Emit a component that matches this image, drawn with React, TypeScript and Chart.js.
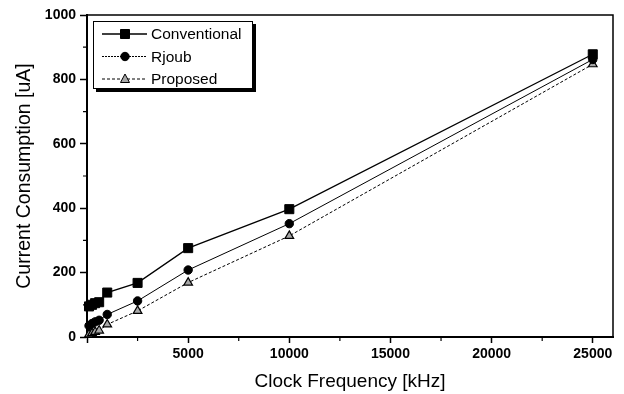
import React, { useEffect, useRef } from 'react';
import { Chart, registerables } from 'chart.js';

Chart.register(...registerables);

// Clock frequency in kHz and current draw in uA for each design
const frequencies = [100, 250, 400, 600, 1000, 2500, 5000, 10000, 25000];
const conventional = [95, 100, 105, 108, 138, 168, 276, 397, 878];
const rjoub = [35, 42, 47, 52, 70, 112, 208, 352, 862];
const proposed = [8, 12, 16, 20, 39, 81, 169, 314, 847];
const seriesNames = ['Conventional', 'Rjoub', 'Proposed'];

const xMajorTicks = [0, 5000, 10000, 15000, 20000, 25000];
const xMinorTicks = [2500, 7500, 12500, 17500, 22500];
const yMajorTicks = [0, 200, 400, 600, 800, 1000];
const yMinorTicks = [100, 300, 500, 700, 900];

const FONT = '"Liberation Sans", Arial, sans-serif';

function drawMarker(ctx: CanvasRenderingContext2D, style: string, x: number, y: number, fill: string) {
  ctx.save();
  ctx.fillStyle = fill;
  ctx.strokeStyle = '#000';
  ctx.lineWidth = 1;
  ctx.setLineDash([]);
  ctx.beginPath();
  if (style === 'rect') {
    ctx.rect(x - 4.5, y - 4.5, 9, 9);
  } else if (style === 'circle') {
    ctx.arc(x, y, 4.2, 0, Math.PI * 2);
  } else {
    ctx.moveTo(x, y - 5);
    ctx.lineTo(x + 4.5, y + 3.5);
    ctx.lineTo(x - 4.5, y + 3.5);
    ctx.closePath();
  }
  ctx.fill();
  ctx.stroke();
  ctx.restore();
}

// Box frame, minor ticks and the shadowed legend
const framePlugin = {
  id: 'frameAndLegend',
  afterDraw(chart: any) {
    const { ctx, chartArea } = chart;
    const { left, right, top, bottom } = chartArea;
    const xs = chart.scales.x;
    const ys = chart.scales.y;
    ctx.save();
    ctx.strokeStyle = '#000';
    ctx.setLineDash([]);
    ctx.lineWidth = 1.5;
    ctx.beginPath();
    ctx.moveTo(left, top);
    ctx.lineTo(right, top);
    ctx.lineTo(right, bottom);
    ctx.stroke();

    ctx.lineWidth = 1.2;
    ctx.beginPath();
    xMinorTicks.forEach((v) => {
      const px = xs.getPixelForValue(v);
      ctx.moveTo(px, bottom);
      ctx.lineTo(px, bottom + 4);
    });
    yMinorTicks.forEach((v) => {
      const py = ys.getPixelForValue(v);
      ctx.moveTo(left, py);
      ctx.lineTo(left - 4, py);
    });
    ctx.stroke();

    // legend
    const bx = left + 6;
    const by = top + 6;
    const bw = 160;
    const bh = 68;
    ctx.fillStyle = '#000';
    ctx.fillRect(bx + 3, by + 3, bw, bh);
    ctx.fillStyle = '#fff';
    ctx.fillRect(bx, by, bw, bh);
    ctx.lineWidth = 1;
    ctx.strokeRect(bx + 0.5, by + 0.5, bw - 1, bh - 1);

    chart.data.datasets.forEach((ds: any, i: number) => {
      const y = by + 13 + i * 22.5;
      ctx.save();
      ctx.strokeStyle = '#000';
      ctx.lineWidth = ds.borderWidth;
      ctx.setLineDash(ds.legendDash || ds.borderDash || []);
      ctx.beginPath();
      ctx.moveTo(bx + 9, y);
      ctx.lineTo(bx + 54, y);
      ctx.stroke();
      ctx.restore();
      drawMarker(ctx, ds.pointStyle, bx + 32, y, ds.pointBackgroundColor);
      ctx.fillStyle = '#000';
      ctx.font = `15.5px ${FONT}`;
      ctx.textBaseline = 'middle';
      ctx.textAlign = 'left';
      ctx.fillText(ds.label, bx + 58, y + 1);
    });
    ctx.restore();
  },
};

export default function App() {
  const canvasRef = useRef<HTMLCanvasElement | null>(null);

  useEffect(() => {
    const canvas = canvasRef.current;
    if (!canvas) return;
    const makeSeries = (values: number[]) => frequencies.map((f, i) => ({ x: f, y: values[i] }));

    const chart = new Chart(canvas, {
      type: 'line',
      data: {
        datasets: [
          {
            label: seriesNames[0],
            data: makeSeries(conventional),
            borderColor: '#000',
            borderWidth: 1.3,
            borderDash: [],
            pointStyle: 'rect',
            pointRadius: 6.4,
            pointBackgroundColor: '#000',
            pointBorderColor: '#000',
            pointBorderWidth: 1,
            clip: false,
          },
          {
            label: seriesNames[1],
            data: makeSeries(rjoub),
            borderColor: '#000',
            borderWidth: 1,
            borderDash: [],
            legendDash: [2, 1],
            pointStyle: 'circle',
            pointRadius: 4.2,
            pointBackgroundColor: '#000',
            pointBorderColor: '#000',
            pointBorderWidth: 1,
            clip: false,
          },
          {
            label: seriesNames[2],
            data: makeSeries(proposed),
            borderColor: '#000',
            borderWidth: 1,
            borderDash: [3, 2],
            pointStyle: 'triangle',
            pointRadius: 5,
            pointBackgroundColor: '#a8a8a8',
            pointBorderColor: '#000',
            pointBorderWidth: 1.2,
            clip: false,
          },
        ] as any,
      },
      options: {
        responsive: false,
        animation: false,
        events: [],
        layout: { padding: { top: 15, right: 11, left: 0, bottom: 0 } },
        plugins: {
          legend: { display: false },
          tooltip: { enabled: false },
        },
        scales: {
          x: {
            type: 'linear',
            min: 0,
            max: 26000,
            afterBuildTicks: (s: any) => {
              s.ticks = xMajorTicks.map((v) => ({ value: v }));
            },
            afterFit: (s: any) => {
              s.height = 57;
            },
            border: { display: true, color: '#000', width: 2 },
            grid: { drawOnChartArea: false, drawTicks: true, tickLength: 6, tickColor: '#000', tickWidth: 1.5 },
            ticks: {
              color: '#000',
              font: { family: FONT, size: 14, weight: 'bold' },
              padding: 3,
              maxRotation: 0,
              callback: (v: any) => (v === 0 ? '' : String(v)),
            },
            title: {
              display: true,
              text: 'Clock Frequency [kHz]',
              color: '#000',
              font: { family: FONT, size: 19 },
              padding: { top: 0, bottom: 1 },
            },
          },
          y: {
            type: 'linear',
            min: 0,
            max: 1000,
            afterBuildTicks: (s: any) => {
              s.ticks = yMajorTicks.map((v) => ({ value: v }));
            },
            afterFit: (s: any) => {
              s.width = 87;
            },
            border: { display: true, color: '#000', width: 2 },
            grid: { drawOnChartArea: false, drawTicks: true, tickLength: 7, tickColor: '#000', tickWidth: 1.5 },
            ticks: {
              color: '#000',
              font: { family: FONT, size: 14, weight: 'bold' },
              padding: 4,
              callback: (v: any) => String(v),
            },
            title: {
              display: true,
              text: 'Current Consumption [uA]',
              color: '#000',
              font: { family: FONT, size: 19.5 },
              padding: { top: 13, bottom: 0 },
            },
          },
        },
      } as any,
      plugins: [framePlugin],
    });

    return () => chart.destroy();
  }, []);

  return (
    <div style={{ position: 'absolute', left: 0, top: 0, width: 624, height: 394, background: '#fff' }}>
      <canvas ref={canvasRef} width={624} height={394} style={{ display: 'block' }} />
    </div>
  );
}
